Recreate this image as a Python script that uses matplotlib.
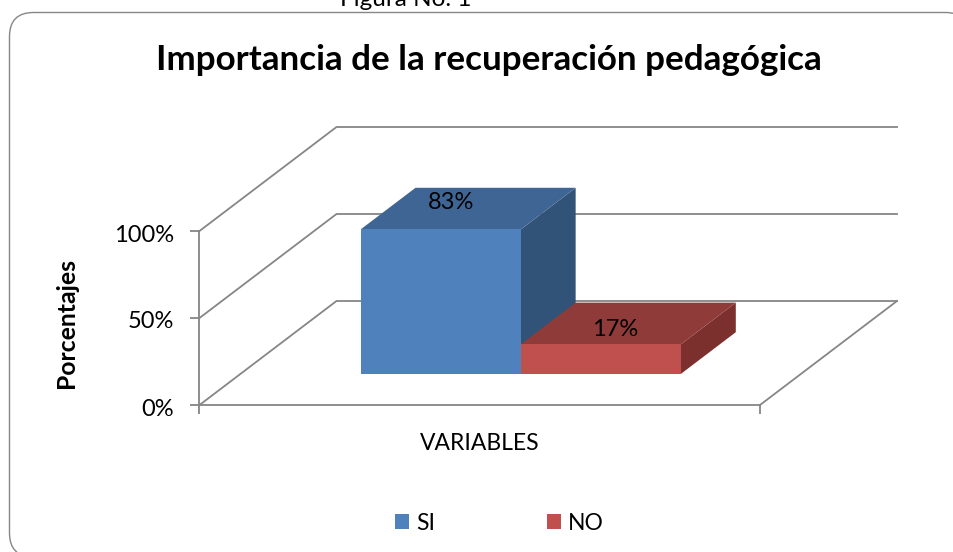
import matplotlib
matplotlib.use('Agg')
import matplotlib.pyplot as plt
from matplotlib.patches import FancyBboxPatch, Polygon, Patch
from matplotlib.transforms import ScaledTranslation

plt.rcParams['font.family'] = ['Lato', 'DejaVu Sans']

categorias = ['SI', 'NO']
valores = [0.83, 0.17]
etiquetas = ['83%', '17%']
ticks_y = [0, 0.5, 1]
ticks_y_txt = ['0%', '50%', '100%']

titulo = 'Importancia de la recuperación pedagógica'
figura_txt = 'Figura No. 1'

col_frente = ['#4F81BD', '#C0504D']
col_arriba = ['#3F6594', '#8F3B39']
col_lado = ['#325378', '#7B302E']
gris = '#868686'

W, H = 954, 552
fig = plt.figure(figsize=(W / 100, H / 100), dpi=100)

# capa de fondo en pixeles, para el marco redondeado
fondo = fig.add_axes([0, 0, 1, 1])
fondo.set_xlim(0, W)
fondo.set_ylim(H, 0)
fondo.axis('off')
fondo.add_patch(FancyBboxPatch((9.5, 12.5), 960, 544.5,
                               boxstyle='round,pad=0,rounding_size=24',
                               fc='white', ec='#868686', lw=1.0, clip_on=True))

# plano frontal del grafico
x0, x1, y0, y1 = 199.5, 760, 405, 231
ax = fig.add_axes([x0 / W, 1 - y0 / H, (x1 - x0) / W, (y0 - y1) / H])
ax.patch.set_alpha(0)
ax.set_xlim(0, 1)
ax.set_ylim(0, 1)

# desplazamiento de la profundidad
prof_x = 137 / (x1 - x0)
prof_y = 104 / (y0 - y1)


def proy(x, y, z):
    return (x + z * prof_x, y + z * prof_y)


lw_g = 1.3
for t in ticks_y:
    pts = [proy(0, t, 0), proy(0, t, 1), proy(1, t, 1)]
    ax.plot(*zip(*pts), color=gris, lw=lw_g, clip_on=False, zorder=1, solid_joinstyle='miter')
ax.plot(*zip(proy(1, 0, 0), proy(1, 0, 1)), color=gris, lw=lw_g, clip_on=False, zorder=1)

# barras con gap de 150%
ancho = 1 / (len(valores) + 1.5)
z_a, z_b = 0.3, 0.7
off_txt = [(10, 27), (14.5, 15)]
for i, v in enumerate(valores):
    a = 0.75 * ancho + i * ancho
    b = a + ancho
    cara = [proy(a, 0, z_a), proy(b, 0, z_a), proy(b, v, z_a), proy(a, v, z_a)]
    lado = [proy(b, 0, z_a), proy(b, 0, z_b), proy(b, v, z_b), proy(b, v, z_a)]
    arriba = [proy(a, v, z_a), proy(b, v, z_a), proy(b, v, z_b), proy(a, v, z_b)]
    ax.add_patch(Polygon(lado, fc=col_lado[i], ec='none', clip_on=False, zorder=3))
    ax.add_patch(Polygon(arriba, fc=col_arriba[i], ec='none', clip_on=False, zorder=3))
    ax.add_patch(Polygon(cara, fc=col_frente[i], ec='none', clip_on=False, zorder=3))
    ax.annotate(etiquetas[i], proy((a + b) / 2, v, z_a), xytext=(off_txt[i][0] * 0.72, off_txt[i][1] * 0.72),
                textcoords='offset points', ha='center', va='center', fontsize=17, color='black',
                zorder=5, annotation_clip=False)

for s in ['top', 'right']:
    ax.spines[s].set_visible(False)
for s in ['left', 'bottom']:
    ax.spines[s].set_color(gris)
    ax.spines[s].set_linewidth(lw_g)
ax.set_yticks(ticks_y)
ax.set_yticklabels(ticks_y_txt, fontsize=17)
ax.set_xticks([0, 1])
ax.set_xticklabels([])
ax.tick_params(axis='both', color=gris, width=lw_g, length=6.5, direction='out')
ax.tick_params(axis='y', pad=12)
baja = ScaledTranslation(0, -2 / 100, fig.dpi_scale_trans)
for lab in ax.get_yticklabels():
    lab.set_transform(lab.get_transform() + baja)

ax.set_xlabel('VARIABLES', fontsize=16.5, va='center')
ax.xaxis.set_label_coords(0.5, -(443 - y0) / (y0 - y1))
ax.set_ylabel('Porcentajes', fontsize=17.8, fontweight='bold', va='center')
ax.yaxis.set_label_coords((67 - x0) / (x1 - x0), (y0 - 322.5) / (y0 - y1))

fig.text(489 / W, 1 - 60 / H, titulo, fontsize=25.2, fontweight='bold', ha='center', va='center')
fig.text(340 / W, 1 - 6 / H, figura_txt, fontsize=17.5, ha='left', va='baseline')

manijas = [Patch(fc=c, ec='none', label=n) for c, n in zip(col_frente, categorias)]
fig.legend(handles=manijas, loc='center', bbox_to_anchor=(499.5 / W, 1 - 523 / H), ncol=2, frameon=False,
           fontsize=16.5, handlelength=0.61, handleheight=0.61, handletextpad=0.3, columnspacing=4.9)

fig.savefig('out.png', dpi=100)
